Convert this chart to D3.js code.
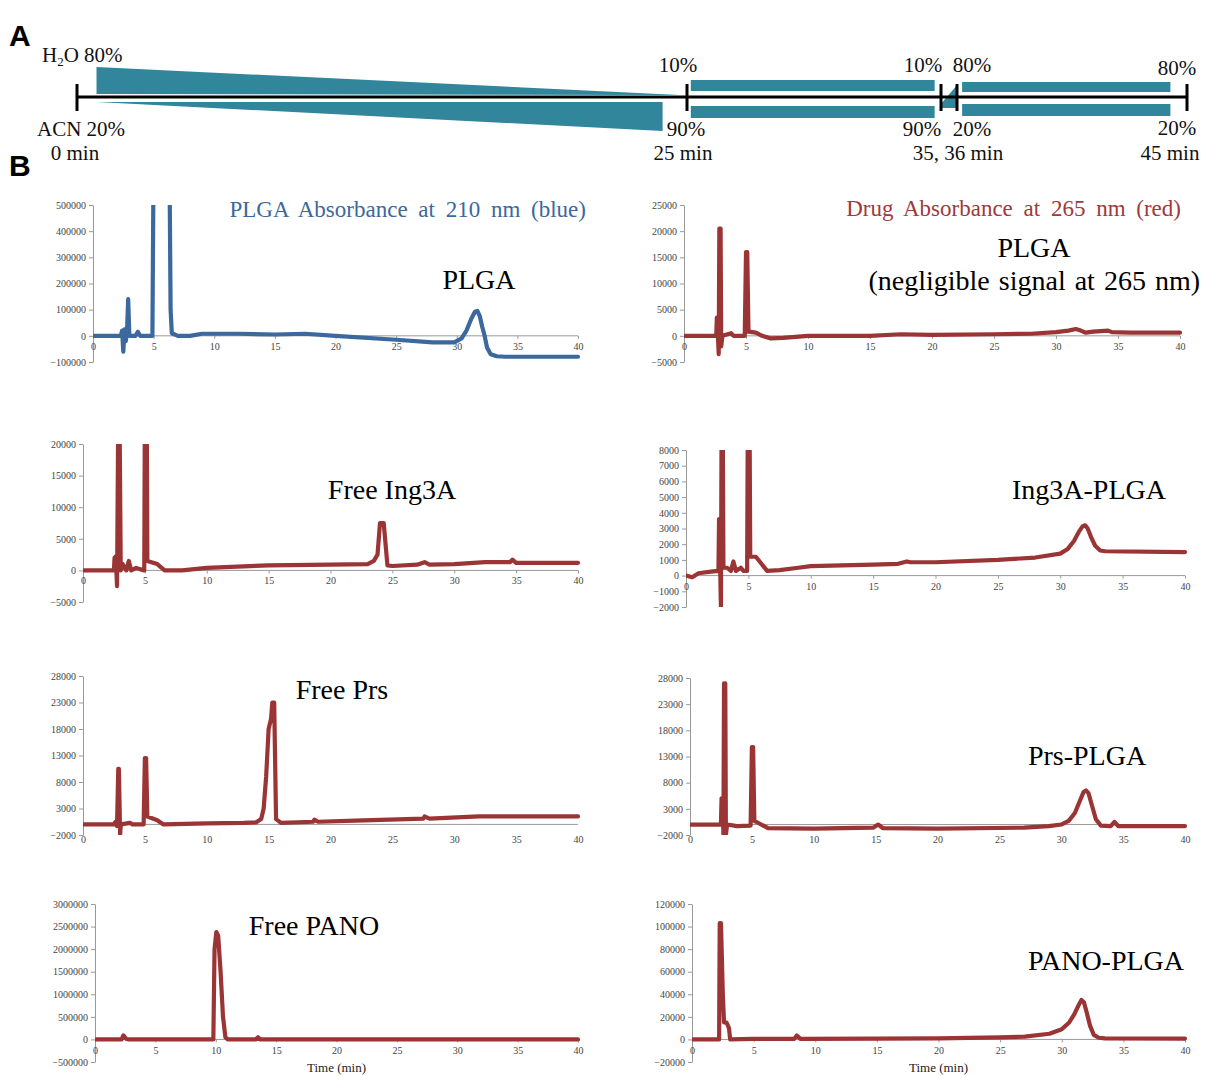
<!DOCTYPE html>
<html><head><meta charset="utf-8">
<script src="https://cdn.jsdelivr.net/npm/d3@7/dist/d3.min.js"></script>
<style>body{margin:0;background:#fff}svg{display:block}</style>
</head><body>
<svg id="c" width="1206" height="1076"></svg>
<script>
// ---------- DATA ----------
const xTicks = [0,5,10,15,20,25,30,35,40];

// PLGA, 210 nm (blue)
const plga210 = [[0,0],[2.3,0],[2.4,20000],[2.5,-60000],[2.6,25000],[2.7,-20000],[2.8,10000],[2.9,140000],[3.0,0],[3.5,0],[3.7,15000],[3.9,0],[4.9,0],[5.0,700000],[6.3,700000],[6.4,100000],[6.5,10000],[7,0],[8,0],[9,8000],[12,8000],[15,5000],[17.5,8000],[20,0],[25,-15000],[28,-25000],[29.8,-25000],[30.4,-10000],[30.8,20000],[31.2,65000],[31.5,92000],[31.7,95000],[31.9,75000],[32.1,35000],[32.3,0],[32.5,-45000],[32.8,-70000],[33.3,-78000],[34,-80000],[40,-80000]];
const plga210Ticks = [-100000,0,100000,200000,300000,400000,500000];

// PLGA, 265 nm (red)
const plga265 = [[0,0],[2.6,0],[2.65,3500],[2.7,2000],[2.8,-3500],[2.85,20500],[2.95,20500],[3.0,-2000],[3.1,0],[3.8,500],[4,0],[4.9,0],[5.0,16000],[5.1,16000],[5.2,800],[5.8,600],[6.3,0],[7,-500],[8,-400],[10,0],[15,0],[17.5,300],[20,200],[25,300],[28,400],[30,700],[31,1000],[31.6,1300],[32,1000],[32.4,600],[33,800],[34.2,1000],[34.5,700],[36,600],[40,600]];
const plga265Ticks = [-5000,0,5000,10000,15000,20000,25000];

// Free Ing3A
const freeIng3A = [[0,0],[2.5,0],[2.55,2000],[2.65,2200],[2.75,-2500],[2.85,25000],[2.95,25000],[3.05,0],[3.2,1000],[3.5,0],[3.7,1500],[3.9,0],[4.3,400],[4.6,200],[4.95,0],[5.0,25000],[5.15,25000],[5.2,1500],[6,1000],[6.6,0],[8,0],[10,400],[15,800],[20,900],[23,1000],[23.5,1500],[23.8,2500],[24.0,7500],[24.3,7500],[24.5,3000],[24.6,800],[25,700],[27,900],[27.6,1300],[28,900],[30,1000],[32.5,1300],[34.5,1300],[34.7,1700],[35,1200],[40,1200]];
const freeIng3ATicks = [-5000,0,5000,10000,15000,20000];

// Ing3A-PLGA
const ing3aPlga = [[0,0],[0.5,-100],[1,150],[2,250],[2.6,300],[2.65,3600],[2.7,3600],[2.75,0],[2.8,-2000],[2.85,9000],[2.95,9000],[3.0,500],[3.3,500],[3.6,300],[3.8,900],[4,300],[4.4,500],[4.6,300],[4.9,300],[4.95,9000],[5.1,9000],[5.15,1200],[5.6,1200],[6,800],[6.5,300],[7.5,350],[9,500],[10,600],[15,700],[17,750],[17.7,900],[18,850],[20,850],[25,1000],[28,1150],[30,1400],[30.6,1700],[31.1,2200],[31.5,2800],[31.8,3150],[32.0,3200],[32.2,3000],[32.5,2400],[32.8,1900],[33.2,1600],[33.6,1550],[40,1500]];
const ing3aPlgaTicks = [-2000,-1000,0,1000,2000,3000,4000,5000,6000,7000,8000];

// Free Prs
const freePrs = [[0,0],[2.5,0],[2.6,400],[2.75,-300],[2.85,10500],[2.9,10500],[3.0,-2000],[3.05,0],[3.8,300],[4,0],[4.9,0],[5.0,12500],[5.1,12500],[5.2,1500],[6,800],[6.5,0],[10,200],[13,300],[14,400],[14.4,1000],[14.6,3000],[14.8,9000],[15.0,18000],[15.2,20000],[15.3,23000],[15.45,23000],[15.6,1000],[16,300],[18.6,500],[18.7,900],[19,500],[22,700],[27.5,1100],[27.6,1500],[28,1100],[32,1500],[40,1500]];
const freePrsTicks = [-2000,3000,8000,13000,18000,23000,28000];

// Prs-PLGA
const prsPlga = [[0,0],[2.5,0],[2.55,5000],[2.65,5000],[2.7,-2000],[2.75,27000],[2.85,27000],[2.9,-2000],[3.0,0],[3.8,-300],[4.9,-200],[5.0,14800],[5.1,14800],[5.2,700],[5.6,200],[6.3,-700],[10,-800],[14.8,-600],[15.2,0],[15.6,-700],[20,-800],[27,-600],[29,-300],[30,0],[30.6,700],[31.1,2200],[31.5,4500],[31.8,6200],[32.0,6500],[32.2,6000],[32.5,3500],[32.8,1000],[33.2,-200],[34,-300],[34.3,500],[34.6,-300],[40,-300]];
const prsPlgaTicks = [-2000,3000,8000,13000,18000,23000,28000];

// Free PANO
const freePano = [[0,0],[2.2,0],[2.35,90000],[2.6,10000],[2.8,0],[9.8,0],[9.9,2000000],[10.05,2380000],[10.2,2300000],[10.4,1500000],[10.6,500000],[10.8,50000],[11,0],[13.3,0],[13.5,50000],[13.7,0],[40,0]];
const freePanoTicks = [-500000,0,500000,1000000,1500000,2000000,2500000,3000000];

// PANO-PLGA
const panoPlga = [[0,0],[2.2,0],[2.25,103000],[2.35,103000],[2.5,40000],[2.6,15000],[2.8,15000],[3.0,10000],[3.1,0],[5,500],[8.3,500],[8.5,3500],[8.8,500],[15,800],[20,1000],[25,1800],[27,2500],[29,5000],[30,9000],[30.6,15000],[31.0,22000],[31.4,31000],[31.6,35000],[31.8,33000],[32.0,25000],[32.3,12000],[32.6,4000],[33.0,1500],[33.5,1000],[40,800]];
const panoPlgaTicks = [-20000,0,20000,40000,60000,80000,100000,120000];

// Gradient timeline (panel A)
const gradTimes = [0,25,35,36,45];
const gradTimeLabels = ["0 min","25 min","35, 36 min","45 min"];

// ---------- STYLE / LAYOUT ----------
const BLUE = "#3b689d", RED = "#9b3434", TEAL = "#31869b";
const svg = d3.select("#c");
const serif = "'Liberation Serif','Times New Roman',serif";

const panels = [
  {data:plga210, ticks:plga210Ticks, color:BLUE, box:[93,578,205,362], low:false},
  {data:plga265, ticks:plga265Ticks, color:RED, box:[684,1180,205,362], low:false},
  {data:freeIng3A, ticks:freeIng3ATicks, color:RED, box:[83,578,444,602], low:false},
  {data:ing3aPlga, ticks:ing3aPlgaTicks, color:RED, box:[686,1185,450,607], low:false},
  {data:freePrs, ticks:freePrsTicks, color:RED, box:[83,578,676,835], low:true},
  {data:prsPlga, ticks:prsPlgaTicks, color:RED, box:[690,1185,678,835], low:true},
  {data:freePano, ticks:freePanoTicks, color:RED, box:[95,578,904,1062], low:false, xlab:true},
  {data:panoPlga, ticks:panoPlgaTicks, color:RED, box:[692,1185,904,1062], low:false, xlab:true}
];

panels.forEach((p,i)=>{
  const [x0,x1,yT,yB] = p.box;
  const x = d3.scaleLinear([0,40],[x0,x1]);
  const y = d3.scaleLinear([p.ticks[0],p.ticks[p.ticks.length-1]],[yB,yT]);
  const g = svg.append("g");
  const ya = g.append("g").attr("transform",`translate(${x0},0)`)
    .call(d3.axisLeft(y).tickValues(p.ticks).tickSize(4).tickSizeOuter(0).tickPadding(3).tickFormat(d3.format("d")))
    .attr("font-family",serif).attr("font-size",10);
  ya.select(".domain").attr("stroke","#999");
  ya.selectAll(".tick line").attr("stroke","#999");
  ya.selectAll("text").attr("fill","#444");
  const y0 = y(0);
  g.append("line").attr("x1",x0).attr("x2",x1).attr("y1",y0).attr("y2",y0).attr("stroke","#999").attr("stroke-width",1);
  const xa = g.append("g").attr("transform",`translate(0,${p.low?yB:y0})`)
    .call(d3.axisBottom(x).tickValues(xTicks).tickSize(p.low?0:3).tickSizeOuter(0).tickPadding(p.low?1:4))
    .attr("font-family",serif).attr("font-size",10);
  xa.select(".domain").remove();
  xa.selectAll(".tick line").attr("stroke","#999");
  xa.selectAll("text").attr("fill","#444");
  if(p.xlab){
    g.append("text").attr("x",(x0+x1)/2).attr("y",yB+10).attr("text-anchor","middle")
      .attr("font-family",serif).attr("font-size",13).attr("fill","#222").text("Time (min)");
  }
  svg.append("clipPath").attr("id","cp"+i).append("rect").attr("x",x0).attr("y",yT).attr("width",x1-x0+4).attr("height",yB-yT);
  g.append("path").datum(p.data).attr("clip-path",`url(#cp${i})`)
    .attr("d",d3.line().x(d=>x(d[0])).y(d=>y(d[1])))
    .attr("fill","none").attr("stroke",p.color).attr("stroke-width",4.2).attr("stroke-linejoin","round").attr("stroke-linecap","round");
});

function txt(x,y,s,size,color,anchor){
  return svg.append("text").attr("x",x).attr("y",y).attr("font-family",serif).attr("font-size",size)
    .attr("fill",color||"#000").attr("text-anchor",anchor||"start").text(s);
}
txt(586,217,"PLGA Absorbance at 210 nm (blue)",23,BLUE,"end").attr("word-spacing",5);
txt(1181,216,"Drug Absorbance at 265 nm (red)",23,"#a0393a","end").attr("word-spacing",5);
txt(479,289,"PLGA",28,"#000","middle");
txt(1034,257,"PLGA",28,"#000","middle");
txt(1200,290,"(negligible signal at 265 nm)",28,"#000","end").attr("word-spacing",2);
txt(392,499,"Free Ing3A",28,"#000","middle");
txt(1089,499,"Ing3A-PLGA",28,"#000","middle");
txt(342,699,"Free Prs",28,"#000","middle");
txt(1087,765,"Prs-PLGA",28,"#000","middle");
txt(314,935,"Free PANO",28,"#000","middle");
txt(1106,970,"PANO-PLGA",28,"#000","middle");

svg.append("text").attr("x",9).attr("y",46).attr("font-family","'Liberation Sans',Arial,sans-serif").attr("font-weight","bold").attr("font-size",30).text("A");
svg.append("text").attr("x",9).attr("y",176).attr("font-family","'Liberation Sans',Arial,sans-serif").attr("font-weight","bold").attr("font-size",30).text("B");

// ---------- PANEL A: gradient timeline ----------
const t = d3.scaleLinear(gradTimes,[77,687,941,957,1187]);
const LY = 97;
const poly = pts => svg.append("polygon").attr("points",pts.map(p=>p.join(",")).join(" ")).attr("fill",TEAL);
poly([[t(0.8),67],[t(24.7),LY-2],[t(0.8),LY-3]]);
poly([[t(0.8),LY+5],[t(24.0),LY+5],[t(24.0),131]]);
svg.append("rect").attr("x",t(25.15)).attr("y",80).attr("width",t(34.75)-t(25.15)).attr("height",11).attr("fill",TEAL);
svg.append("rect").attr("x",t(25.15)).attr("y",106).attr("width",t(34.75)-t(25.15)).attr("height",12).attr("fill",TEAL);
poly([[t(35.05),LY+6],[t(35.95),86],[t(35.95),LY+11],[t(35.05),LY+11]]);
svg.append("rect").attr("x",t(36.2)).attr("y",82).attr("width",t(44.35)-t(36.2)).attr("height",10).attr("fill",TEAL);
svg.append("rect").attr("x",t(36.2)).attr("y",104).attr("width",t(44.35)-t(36.2)).attr("height",12).attr("fill",TEAL);
svg.append("line").attr("x1",t(0)).attr("x2",t(45)).attr("y1",LY).attr("y2",LY).attr("stroke","#000").attr("stroke-width",3);
gradTimes.forEach(d=>svg.append("line").attr("x1",t(d)).attr("x2",t(d)).attr("y1",84).attr("y2",111).attr("stroke","#000").attr("stroke-width",3));
const h2o = txt(42,62,"",21,"#111");
h2o.append("tspan").text("H");
h2o.append("tspan").attr("font-size",13).attr("dy",4).text("2");
h2o.append("tspan").attr("dy",-4).text("O 80%");
txt(37,136,"ACN 20%",21,"#111");
txt(75,160,gradTimeLabels[0],21,"#111","middle");
txt(678,72,"10%",21,"#111","middle");
txt(686,136,"90%",21,"#111","middle");
txt(683,160,gradTimeLabels[1],21,"#111","middle");
txt(923,72,"10%",21,"#111","middle");
txt(972,72,"80%",21,"#111","middle");
txt(922,136,"90%",21,"#111","middle");
txt(972,136,"20%",21,"#111","middle");
txt(958,160,gradTimeLabels[2],21,"#111","middle");
txt(1177,75,"80%",21,"#111","middle");
txt(1177,135,"20%",21,"#111","middle");
txt(1170,160,gradTimeLabels[3],21,"#111","middle");
</script>
</body></html>
